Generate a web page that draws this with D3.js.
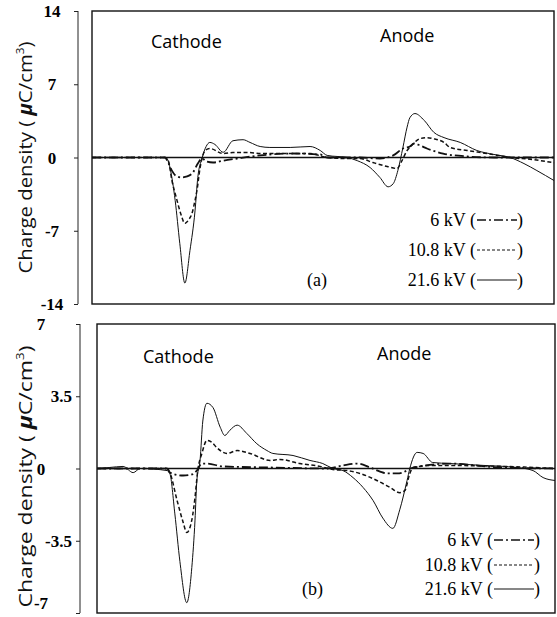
<!DOCTYPE html>
<html>
<head>
<meta charset="utf-8">
<script src="https://cdn.jsdelivr.net/npm/d3@7"></script>
<style>
  body { margin: 0; background: #fff; }
  svg { display: block; }
</style>
</head>
<body>
<div id="chart"></div>
<script>
// series: [position (0-100 across the plot), charge density]
var legendLabels = ["6 kV", "10.8 kV", "21.6 kV"];
var ticksA = [-14, -7, 0, 7, 14];
var ticksB = [-7, -3.5, 0, 3.5, 7];

var a6kV = [[0,0],[15.8,0],[16.5,-0.5],[17.3,-1.25],[18.0,-1.7],[19.3,-1.9],[20.6,-1.8],[21.9,-1.4],[22.9,-0.58],
  [23.8,-0.1],[24.9,-0.4],[26.2,-0.48],[28.4,-0.3],[31.4,-0.1],[36.4,0.2],[43.5,0.38],[49.4,0.29],[50.9,0],[58.0,0],
  [62.3,-0.1],[65.2,0.2],[67.3,0.86],[68.8,1.05],[69.7,1.34],[71.0,1.15],[72.5,0.86],[76.0,0.38],[81.2,0.1],[87.0,0],[100,0]];
var a10kV = [[0,0],[15.8,0],[16.5,-0.3],[17.3,-2.2],[18.4,-4.1],[19.3,-5.5],[20.1,-6.3],[21.0,-5.9],[21.6,-5.4],[22.3,-4.1],
  [22.7,-3.2],[23.4,-0.96],[24.5,0.67],[25.5,0.86],[28.4,0.38],[30.5,0.48],[33.6,0.48],[37.0,0.38],[42.9,0.38],[47.2,0.38],
  [50.9,0],[55.2,-0.1],[58.0,-0.1],[60.8,-0.48],[63.9,-0.86],[66.0,-1.05],[67.1,-0.3],[68.2,0.67],[68.8,0.96],[71.0,1.8],
  [72.5,1.9],[73.8,1.8],[76.2,1.44],[77.5,0.96],[81.2,0.67],[85.5,0.38],[90.5,0],[95.5,-0.2],[100,-0.5]];
var a21kV = [[0,0],[15.8,0],[16.5,-0.3],[16.9,-1.0],[18.0,-4.1],[19.0,-8.2],[20.1,-12.0],[21.2,-8.9],[22.3,-5.1],[22.9,-1.9],
  [23.8,-0.1],[24.7,1.05],[25.5,1.44],[26.6,1.25],[28.4,0.5],[30.5,1.6],[32.7,1.7],[34.2,1.44],[36.4,1.05],[38.5,0.96],
  [42.9,0.96],[47.2,1.05],[49.4,0.67],[50.9,0.2],[55.2,0],[57.4,-0.3],[60.2,-0.96],[62.3,-1.9],[64.1,-2.8],[65.2,-2.5],
  [66.2,-1.25],[67.3,0.96],[68.2,2.9],[68.8,3.8],[69.9,4.2],[71.9,3.55],[74.0,2.4],[76.2,1.9],[79.7,1.44],[83.3,0.67],
  [87.0,0.29],[90.5,0],[93.5,-0.58],[96.3,-1.25],[100,-2.2]];

var b6kV = [[0,0],[15.3,0],[15.9,-0.2],[18.8,-0.34],[20.7,-0.29],[21.8,-0.1],[22.9,0.24],[24.0,0.24],[27.5,0.1],[37.8,0.05],
  [50.2,0],[53.7,0.15],[56.8,0.24],[59.6,0.05],[61.8,-0.15],[63.3,-0.24],[65.5,-0.24],[67.2,-0.15],[68.3,0],[77.1,0.24],
  [88.0,0.05],[100,0]];
var b10kV = [[0,0],[15.3,0],[15.9,-0.2],[17.5,-1.56],[18.8,-2.6],[19.6,-3.1],[20.7,-2.5],[21.4,-1.4],[22.0,-0.1],[22.9,0.73],
  [24.0,1.36],[25.1,1.26],[26.2,1.0],[28.4,0.73],[30.6,0.87],[33.4,0.73],[37.8,0.39],[39.9,0.44],[44.3,0.24],[48.7,0.1],
  [51.5,-0.05],[54.6,-0.1],[57.4,-0.24],[61.1,-0.58],[64.0,-0.92],[66.1,-1.17],[67.2,-1.07],[68.3,-0.24],[69.0,0.05],
  [73.3,0.15],[95.2,0.05],[100,0]];
var b21kV = [[0,0],[2.8,0.05],[5.7,0.1],[7.9,-0.2],[9.4,0],[15.3,-0.1],[15.9,-0.24],[17.0,-2.2],[18.1,-4.5],[19.6,-6.5],
  [20.7,-4.8],[21.4,-2.5],[21.8,-0.58],[22.5,0.39],[23.1,2.3],[24.0,3.16],[25.3,2.96],[26.9,2.0],[27.9,1.6],[29.0,1.85],
  [30.6,2.1],[32.7,1.7],[34.9,1.2],[37.1,0.87],[38.4,0.73],[42.8,0.63],[46.5,0.39],[49.3,0.24],[51.5,0],[53.7,-0.1],
  [55.9,-0.44],[58.1,-0.92],[60.3,-1.56],[62.4,-2.4],[64.6,-2.9],[66.1,-2.0],[67.7,-0.58],[68.3,0],[69.9,0.78],[71.2,0.73],
  [73.3,0.29],[77.1,0.24],[84.3,0.15],[91.7,0.05],[95.2,-0.1],[97.4,-0.44],[100,-0.58]];

var dashes = ["9,3,2,3", "4,2.5", null];
var widths = [1.8, 1.5, 1.0];

var svg = d3.select('#chart').append('svg')
  .attr('width', 557)
  .attr('height', 617);

var panels = [
  { box: [92, 11, 554, 304], axisX: 78, max: 14, ticks: ticksA, series: [a6kV, a10kV, a21kV], tag: "(a)",
    cathode: [151, 48], anode: [380, 42], legendRight: 523, legendY: [226, 256, 286], tagX: 307 },
  { box: [97, 324, 555, 613], axisX: 80, max: 7, ticks: ticksB, series: [b6kV, b10kV, b21kV], tag: "(b)",
    cathode: [143, 363], anode: [377, 360], legendRight: 540, legendY: [546, 571, 595], tagX: 302 }
];

panels.forEach(function (p) {
  var x = d3.scaleLinear().domain([0, 100]).range([p.box[0], p.box[2]]);
  var y = d3.scaleLinear().domain([-p.max, p.max]).range([p.box[3], p.box[1]]);
  var g = svg.append('g');

  // plot frame
  g.append('rect')
    .attr('x', p.box[0]).attr('y', p.box[1])
    .attr('width', p.box[2] - p.box[0]).attr('height', p.box[3] - p.box[1])
    .attr('fill', 'none').attr('stroke', '#111').attr('stroke-width', 1.4);

  // detached y axis
  var axis = d3.axisLeft(y).tickValues(p.ticks).tickSize(4).tickFormat('');
  var ag = g.append('g').attr('transform', 'translate(' + p.axisX + ',0)').call(axis);
  ag.selectAll('path, line').attr('stroke', '#222').attr('stroke-width', 1);
  ag.select('.domain').attr('d', 'M0,' + y(p.max) + 'V' + y(-p.max));

  // tick labels: integers sit further left than the half values
  g.selectAll('.tl').data(p.ticks).enter().append('text')
    .attr('x', function (d) { return d % 1 === 0 ? (p.max === 14 ? 52 : 41) : 72; })
    .attr('y', function (d) { return Math.min(y(d) + 6, 609); })
    .attr('text-anchor', function (d) { return d % 1 === 0 ? 'middle' : 'end'; })
    .style('font-family', 'Liberation Serif').style('font-size', '17px').style('font-weight', 'bold')
    .text(function (d) { return d === 0 ? '0' : String(d); });

  // y title
  var cy = (p.box[1] + p.box[3]) / 2 + (p.max === 14 ? 0 : 8);
  var t = g.append('text')
    .attr('transform', 'translate(32,' + cy + ') rotate(-90)')
    .attr('text-anchor', 'middle')
    .attr('textLength', p.max === 14 ? 232 : 262)
    .attr('lengthAdjust', 'spacingAndGlyphs')
    .style('font-family', 'Open Sans').style('font-size', '19px').attr('fill', '#111');
  t.append('tspan').text('Charge density ( ');
  t.append('tspan').style('font-style', 'italic').style('font-weight', 'bold').text('\u03bc');
  t.append('tspan').text('C/cm');
  t.append('tspan').attr('dy', -8).style('font-size', '11px').text('3');
  t.append('tspan').attr('dy', 8).text(')');

  // zero line
  g.append('line')
    .attr('x1', p.box[0]).attr('x2', p.box[2])
    .attr('y1', y(0)).attr('y2', y(0))
    .attr('stroke', '#111').attr('stroke-width', 1.3);

  var line = d3.line()
    .x(function (d) { return x(d[0]); })
    .y(function (d) { return y(d[1]); })
    .curve(d3.curveMonotoneX);

  p.series.forEach(function (s, i) {
    g.append('path')
      .datum(s)
      .attr('d', line)
      .attr('fill', 'none')
      .attr('stroke', '#111')
      .attr('stroke-width', widths[i])
      .attr('stroke-dasharray', dashes[i]);
  });

  // electrode labels
  g.append('text').attr('x', p.cathode[0]).attr('y', p.cathode[1])
    .style('font-family', 'Open Sans').style('font-size', '18px').text('Cathode');
  g.append('text').attr('x', p.anode[0]).attr('y', p.anode[1])
    .style('font-family', 'Open Sans').style('font-size', '18px').text('Anode');

  // legend
  legendLabels.forEach(function (lab, i) {
    var ly = p.legendY[i];
    var r = p.legendRight;
    g.append('text').attr('x', r).attr('y', ly).attr('text-anchor', 'end')
      .style('font-family', 'Liberation Serif').style('font-size', '18px').text(')');
    g.append('line')
      .attr('x1', r - 46).attr('x2', r - 6).attr('y1', ly - 6).attr('y2', ly - 6)
      .attr('stroke', '#111').attr('stroke-width', i === 0 ? 1.5 : 1.2)
      .attr('stroke-dasharray', i === 0 ? '9,3,2,3' : (i === 1 ? '3,2' : null));
    g.append('text').attr('x', r - 47).attr('y', ly).attr('text-anchor', 'end')
      .style('font-family', 'Liberation Serif').style('font-size', '18px').text(lab + ' (');
  });
  g.append('text').attr('x', p.tagX).attr('y', p.legendY[2])
    .style('font-family', 'Liberation Serif').style('font-size', '18px').text(p.tag);
});
</script>
</body>
</html>
